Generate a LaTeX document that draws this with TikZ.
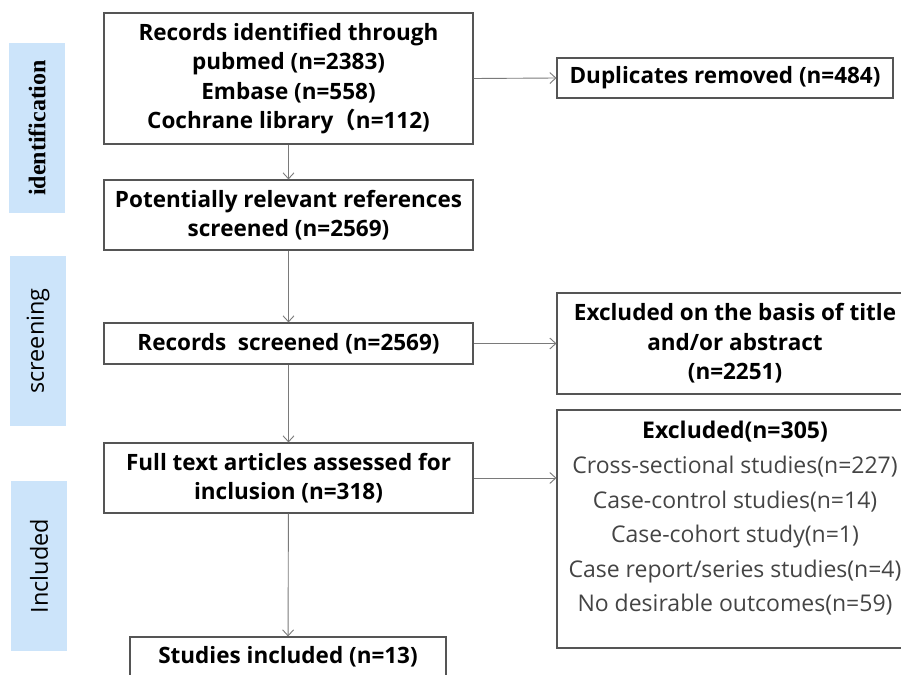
\documentclass[tikz,border=0pt]{standalone}
\usepackage{fontspec}
\setmainfont{Open Sans}
\newfontfamily\cjk{Noto Sans CJK SC}
\newfontfamily\serifb{Liberation Serif}
\usetikzlibrary{arrows.meta}
\definecolor{sidec}{HTML}{CCE4FA}
\definecolor{boxc}{HTML}{555555}
\definecolor{arrc}{HTML}{7A7A7A}
\definecolor{listc}{HTML}{444444}
\begin{document}
\begin{tikzpicture}[x=1pt,y=-1pt,
  sidebar/.style={fill=sidec, draw=none, minimum width=56pt, minimum height=170pt, inner sep=0pt},
  mbox/.style={draw=boxc, line width=1.1pt, inner sep=0pt, align=center, text=black,
     font=\bfseries\fontsize{22.5}{29.5}\selectfont},
  arr/.style={draw=arrc, line width=0.9pt, -{Straight Barb[length=6pt,width=11pt]}},
  listtext/.style={align=center, text=listc, inner sep=0pt, font=\fontsize{23}{34.6}\selectfont}
]
\useasboundingbox (0,0) rectangle (901,674);
\clip (0,0) rectangle (901,674);

% phase bars
\node[sidebar] (s1) at (37,128) {};
\node[rotate=90, font=\serifb\bfseries\fontsize{24}{24}\selectfont] (s1t) at (s1.center) {identification};
\node[sidebar] (s2) at (38,341) {};
\node[rotate=90, font=\fontsize{23.5}{24}\selectfont] (s2t) at (s2.center) {screening};
\node[sidebar] (s3) at (39,566) {};
\node[rotate=90, font=\fontsize{23.5}{24}\selectfont] (s3t) at (s3.center) {Included};

% main column
\node[mbox, minimum width=369pt, minimum height=131pt] (b1) at (288.5,78.5)
  {Records identified through\\pubmed (n=2383)\\Embase (n=558)\\Cochrane library{\cjk （}n=112)};
\node[mbox, minimum width=369pt, minimum height=70pt] (b2) at (288.5,215)
  {Potentially relevant references\\screened (n=2569)};
\node[mbox, minimum width=369pt, minimum height=41pt] (b3) at (288.5,343.5)
  {Records\ \ screened (n=2569)};
\node[mbox, minimum width=369pt, minimum height=70pt] (b4) at (288.5,478)
  {Full text articles assessed for\\inclusion (n=318)};
\node[mbox, minimum width=316pt, minimum height=40pt] (b5) at (288,657)
  {Studies included (n=13)};

% right column
\node[mbox, minimum width=336pt, minimum height=40pt] (dup) at (725,78)
  {Duplicates removed (n=484)};
\node[mbox, minimum width=356pt, minimum height=101pt] (ex1) at (735,343.5)
  {Excluded on the basis of title\\and/or abstract\\(n=2251)};
\node[mbox, minimum width=356pt, minimum height=238pt] (ex2) at (735,529) {};
\node[listtext] (ex2t) at (735,518.5)
  {{\bfseries\color{black}Excluded(n=305)}\\Cross-sectional studies(n=227)\\Case-control studies(n=14)\\Case-cohort study(n=1)\\Case report/series studies(n=4)\\No desirable outcomes(n=59)};

% connectors
\draw[arr] (b1) -- (b2);
\draw[arr] (b2) -- (b3);
\draw[arr] (b3) -- (b4);
\draw[arr] (b4) -- (b5);
\draw[arr] (b1.east) -- (dup.west);
\draw[arr] (b3.east) -- (ex1.west);
\draw[arr] (b4.east) -- (b4.east -| ex2.west);
\end{tikzpicture}
\end{document}
